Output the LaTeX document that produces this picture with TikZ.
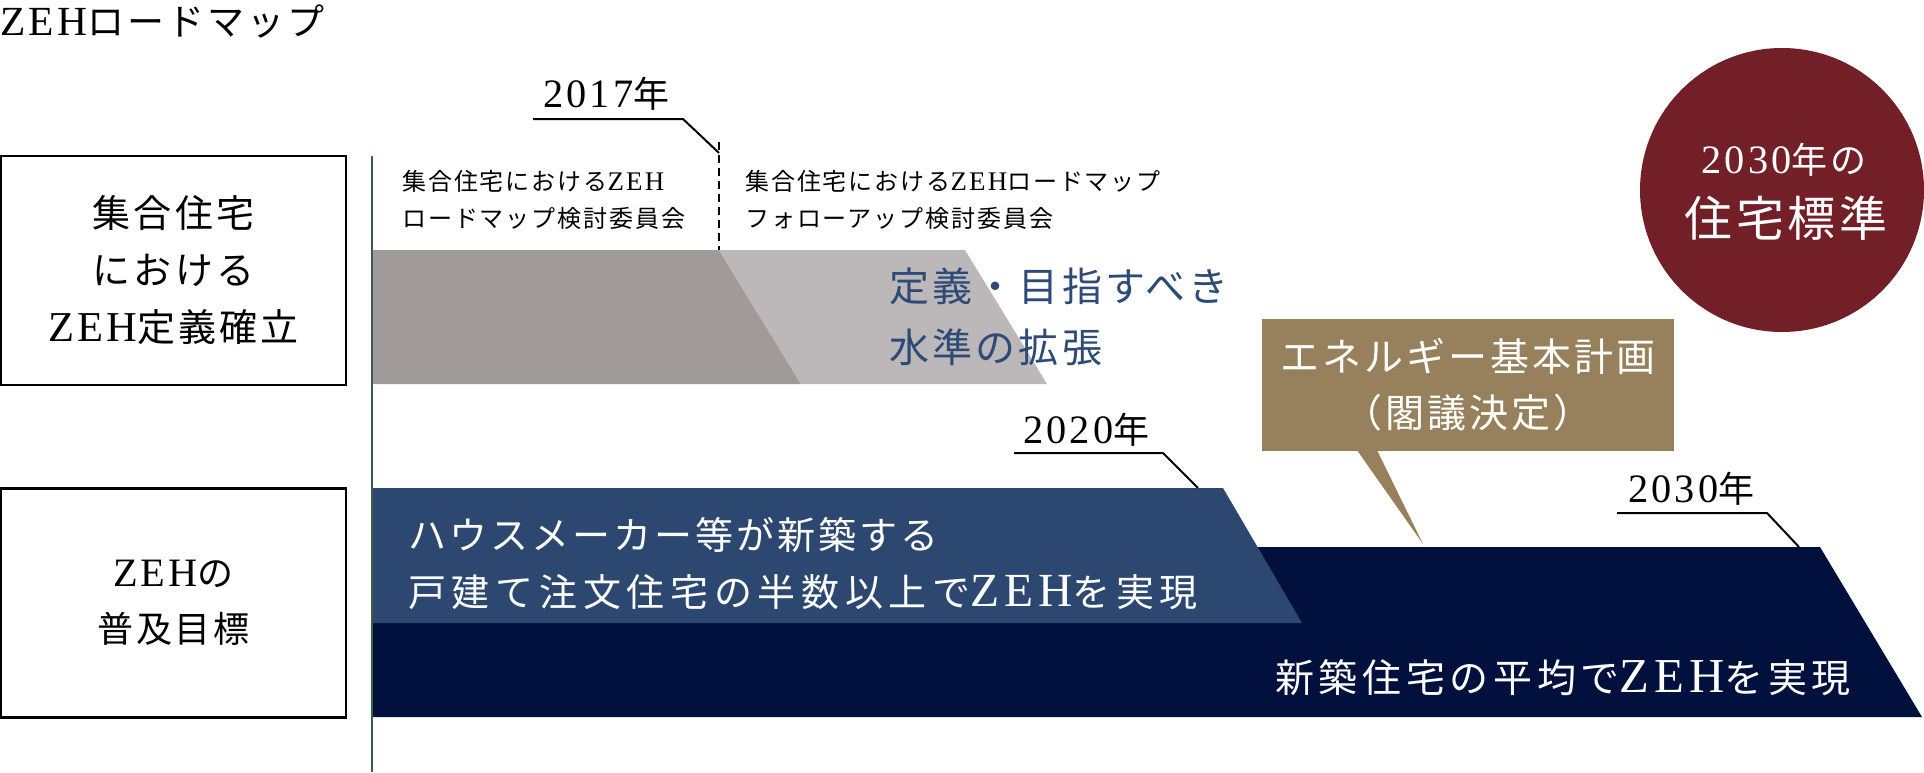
\documentclass[tikz,border=0pt]{standalone}
\usepackage{fontspec}
\setmainfont{Noto Sans CJK JP}[LetterSpace=8]
\newfontfamily\lat{Liberation Serif}[Scale=1.12,LetterSpace=8]
\newfontfamily\latw{Liberation Serif}[Scale=1.25,LetterSpace=10]
\newcommand\fsz[2]{\fontsize{#1}{#2}\selectfont}
\definecolor{grayA}{RGB}{160,154,155}
\definecolor{grayB}{RGB}{188,183,184}
\definecolor{txtblue}{RGB}{46,74,118}
\definecolor{bandblue}{RGB}{45,72,112}
\definecolor{navy}{RGB}{1,16,60}
\definecolor{wine}{RGB}{114,31,39}
\definecolor{gold}{RGB}{151,129,92}
\definecolor{axisgreen}{RGB}{62,92,78}
\begin{document}
\begin{tikzpicture}[x=1pt,y=-1pt,
  labelbox/.style={draw=black, line width=2.5pt, minimum width=345pt, minimum height=229pt, inner sep=0pt, align=center},
  leader/.style={draw=black, line width=2pt},
  yearlbl/.style={anchor=base west, inner sep=0pt, font=\fsz{36}{40}},
  txt/.style={inner sep=0pt, align=left, anchor=west}]
\useasboundingbox (0,0) rectangle (1924,772);
% bands
\fill[grayA] (373,250) -- (719,250) -- (801,384) -- (373,384) -- cycle;
\fill[grayB] (719,250) -- (965,250) -- (1047,384) -- (801,384) -- cycle;
\fill[navy] (373,547) -- (1820,547) -- (1922,717) -- (373,717) -- cycle;
\fill[bandblue] (373,488) -- (1223,488) -- (1302,623) -- (373,623) -- cycle;
% axis
\coordinate (axtop) at (372,156);
\coordinate (axbot) at (372,772);
\draw[axisgreen, line width=2pt] (axtop) -- (axbot);
% title
\node[anchor=base west, inner sep=0pt, font=\fsz{37}{40}] (title) at (0,35) {{\lat ZEH}ロードマップ};
% left boxes
\node[labelbox, font=\fsz{38}{57}] (box1) at (173.5,270.5) {集合住宅\\における\\{\lat ZEH}定義確立};
\node[labelbox, font=\fsz{36}{56}] (box2) at (173.5,603) {{\lat ZEH}の\\普及目標};
% committees
\node[txt, font=\fsz{24}{37}] (com1) at (402,200) {集合住宅における{\lat ZEH}\\ロードマップ検討委員会};
\node[txt, font=\fsz{24}{37}] (com2) at (745,200) {集合住宅における{\lat ZEH}ロードマップ\\フォローアップ検討委員会};
% definition text
\node[txt, font=\fsz{40}{61}, text=txtblue] (def) at (889,317) {定義・目指すべき\\水準の拡張};
% band texts
\node[txt, font=\fsz{38}{57}, text=white] (goal20) at (408,563.5) {ハウスメーカー等が新築する\\{\addfontfeatures{LetterSpace=15}戸建て注文住宅の半数以上で}{\latw ZEH}{\addfontfeatures{LetterSpace=15}を実現}};
\node[txt, font=\fsz{39}{50}, text=white] (goal30) at (1275,678) {{\addfontfeatures{LetterSpace=12}新築住宅の平均で}{\latw ZEH}{\addfontfeatures{LetterSpace=12}を実現}};
% year labels and leaders
\node[yearlbl] (y17) at (543,107) {{\lat 2017}年};
\node[yearlbl] (y20) at (1023,443) {{\lat 2020}年};
\node[yearlbl] (y30) at (1628,502) {{\lat 2030}年};
\coordinate (k17a) at (533,119); \coordinate (k17b) at (683,119); \coordinate (k17c) at (719,153);
\coordinate (d17top) at (719,142); \coordinate (d17bot) at (719,250);
\draw[leader] (k17a) -- (k17b) -- (k17c);
\draw[leader, dash pattern=on 8pt off 5pt] (d17top) -- (d17bot);
\coordinate (k20a) at (1014,453); \coordinate (k20b) at (1163,453); \coordinate (k20c) at (1198,488);
\draw[leader] (k20a) -- (k20b) -- (k20c);
\coordinate (k30a) at (1617,513); \coordinate (k30b) at (1767,513); \coordinate (k30c) at (1799,547);
\draw[leader] (k30a) -- (k30b) -- (k30c);
% energy plan callout
\node[fill=gold, text=white, minimum width=412pt, minimum height=132pt, inner sep=0pt, align=center, font=\fsz{39}{56}] (plan) at (1468,385) {エネルギー基本計画\\（閣議決定）};
\coordinate (tip) at (1423,544);
\fill[gold] ([xshift=-111pt,yshift=1pt]plan.south) -- (tip) -- ([xshift=-91pt,yshift=1pt]plan.south) -- cycle;
% 2030 goal circle
\node[circle, fill=wine, minimum size=284pt, inner sep=0pt] (std) at (1782,190) {};
\node[anchor=base, inner sep=0pt, text=white, font=\fsz{36}{40}] (std1) at (1784,173) {{\lat 2030}年の};
\node[anchor=base, inner sep=0pt, text=white, font=\fsz{48}{50}] (std2) at (1786,236) {住宅標準};
\end{tikzpicture}
\end{document}
